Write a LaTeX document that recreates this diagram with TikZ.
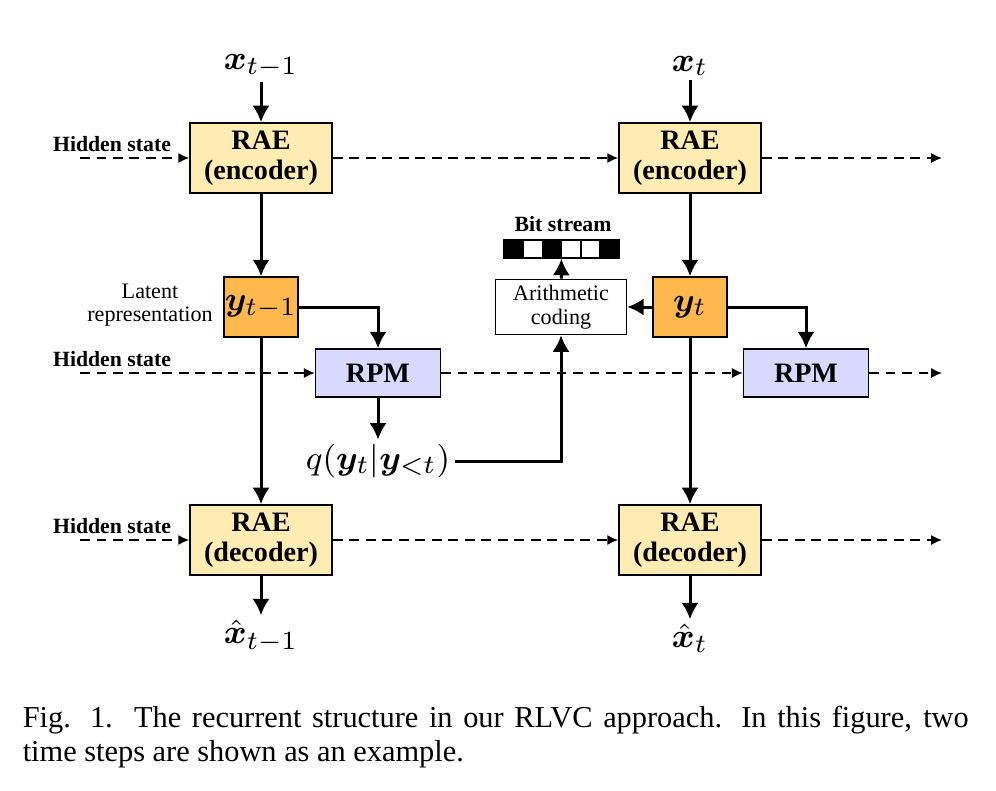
\documentclass[tikz,border=0pt]{standalone}
\usepackage{amsmath}
\usepackage{bm}
\usepackage{fontspec}
\setmainfont{Liberation Serif}
\usetikzlibrary{arrows.meta,positioning}

\definecolor{raefill}{RGB}{255,236,178}
\definecolor{latfill}{RGB}{255,184,77}
\definecolor{rpmfill}{RGB}{217,217,255}

\tikzset{
    raebox/.style={draw, fill=raefill, line width=0.4pt, minimum width=37.9pt, minimum height=18.7pt,
        inner sep=0pt, align=center, font=\fontsize{7.5}{7.9}\selectfont\bfseries},
    latentbox/.style={draw, fill=latfill, line width=0.4pt, minimum width=19.7pt, minimum height=16pt,
        inner sep=0pt, font=\fontsize{9.5}{11}\selectfont},
    rpmbox/.style={draw, fill=rpmfill, line width=0.4pt, minimum width=33.3pt, minimum height=12.8pt,
        inner sep=0pt, font=\fontsize{7.5}{8}\selectfont\bfseries},
    codebox/.style={draw, fill=white, line width=0.4pt, minimum width=34.9pt, minimum height=14.7pt,
        inner sep=0pt, align=center, font=\fontsize{5.9}{6.4}\selectfont},
    bitcell/.style={draw, line width=0.4pt, minimum width=5.12pt, minimum height=4.8pt, inner sep=0pt},
    hiddenlabel/.style={anchor=base, inner sep=0pt, font=\fontsize{5.8}{6.5}\selectfont\bfseries},
    mathlabel/.style={inner sep=1pt, font=\fontsize{9.5}{11}\selectfont},
    flow/.style={-{Latex[length=4.4pt,width=4.6pt]}, line width=0.8pt},
    hidden/.style={-{Latex[length=2.9pt,width=2.7pt]}, line width=0.45pt, dash pattern=on 2.6pt off 1.8pt}
}

\begin{document}
\begin{tikzpicture}[x=0.2667pt, y=-0.2667pt]
\useasboundingbox (0,0) rectangle (996,790);

% the two time steps
\foreach \s/\xc in {1/261, 2/690} {
    \node[raebox] (enc\s) at (\xc,158) {RAE\\(encoder)};
    \node[latentbox] (lat\s) at (\xc,307) {};
    \node[raebox] (dec\s) at (\xc,540) {RAE\\(decoder)};
}
\node[font=\fontsize{9.5}{11}\selectfont] at (lat1) {$\bm{y}_{t-1}$};
\node[font=\fontsize{9.5}{11}\selectfont] at (lat2) {$\bm{y}_{t}$};
\node[rpmbox] (rpm1) at (378,373) {RPM};
\node[rpmbox] (rpm2) at (806,373) {RPM};

% inputs and outputs
\node[mathlabel] (x1) at (261,66) {$\bm{x}_{t-1}$};
\node[mathlabel] (x2) at (690,66) {$\bm{x}_{t}$};
\node[mathlabel] (xh1) at (261,636) {$\hat{\bm{x}}_{t-1}$};
\node[mathlabel] (xh2) at (690,638) {$\hat{\bm{x}}_{t}$};
\node[mathlabel] (q) at (378,461) {$q(\bm{y}_t|\bm{y}_{<t})$};

\node[align=center, inner sep=0pt, font=\fontsize{5.9}{6.1}\selectfont] (latent) at (150,305) {Latent\\representation};

% entropy coding and bit stream
\node[codebox] (ac) at (561,307) {Arithmetic\\coding};
\node[inner sep=0pt, minimum width=30.7pt, minimum height=4.8pt] (bits) at (561.5,249) {};
\foreach \c [count=\i from 0] in {black,white,black,white,white,black}
    \node[bitcell, fill=\c] (bit\i) at ({504+9.6+\i*19.2},249) {};
\node[inner sep=0pt, anchor=base, font=\fontsize{5.8}{6.5}\selectfont\bfseries] (bslabel) at (563,231) {Bit stream};

% main data flow
\foreach \s in {1,2} {
    \draw[flow] (x\s) -- (enc\s);
    \draw[flow] (enc\s) -- (lat\s);
    \draw[flow] (lat\s) -- (dec\s);
    \draw[flow] (dec\s) -- (xh\s);
    \draw[flow] (lat\s.east) -| (rpm\s.north);
}
\draw[flow] (rpm1) -- (q);
\draw[flow] (q.east) -| (ac.south);
\draw[flow] (lat2) -- (ac);
\draw[flow] (ac) -- (bits);

% hidden states passed between time steps
\foreach \y/\a/\b/\r in {158/enc1/enc2/enc, 373/rpm1/rpm2/rpm, 540/dec1/dec2/dec} {
    \node[hiddenlabel] (hl\r) at (112,\y-7) {Hidden state};
    \coordinate (hin\r) at (80,\y);
    \coordinate (hout\r) at (942,\y);
    \draw[hidden] (hin\r) -- (\a);
    \draw[hidden] (\a) -- (\b);
    \draw[hidden] (\b) -- (hout\r);
}

% caption
\node[anchor=north west, inner sep=0pt, text width=252.3pt, align=justify,
    font=\fontsize{8.1}{9.1}\selectfont] (caption) at (22,705)
    {Fig. 1.\ \ The recurrent structure in our RLVC approach. In this figure, two\linebreak time steps are shown as an example.};

\end{tikzpicture}
\end{document}
